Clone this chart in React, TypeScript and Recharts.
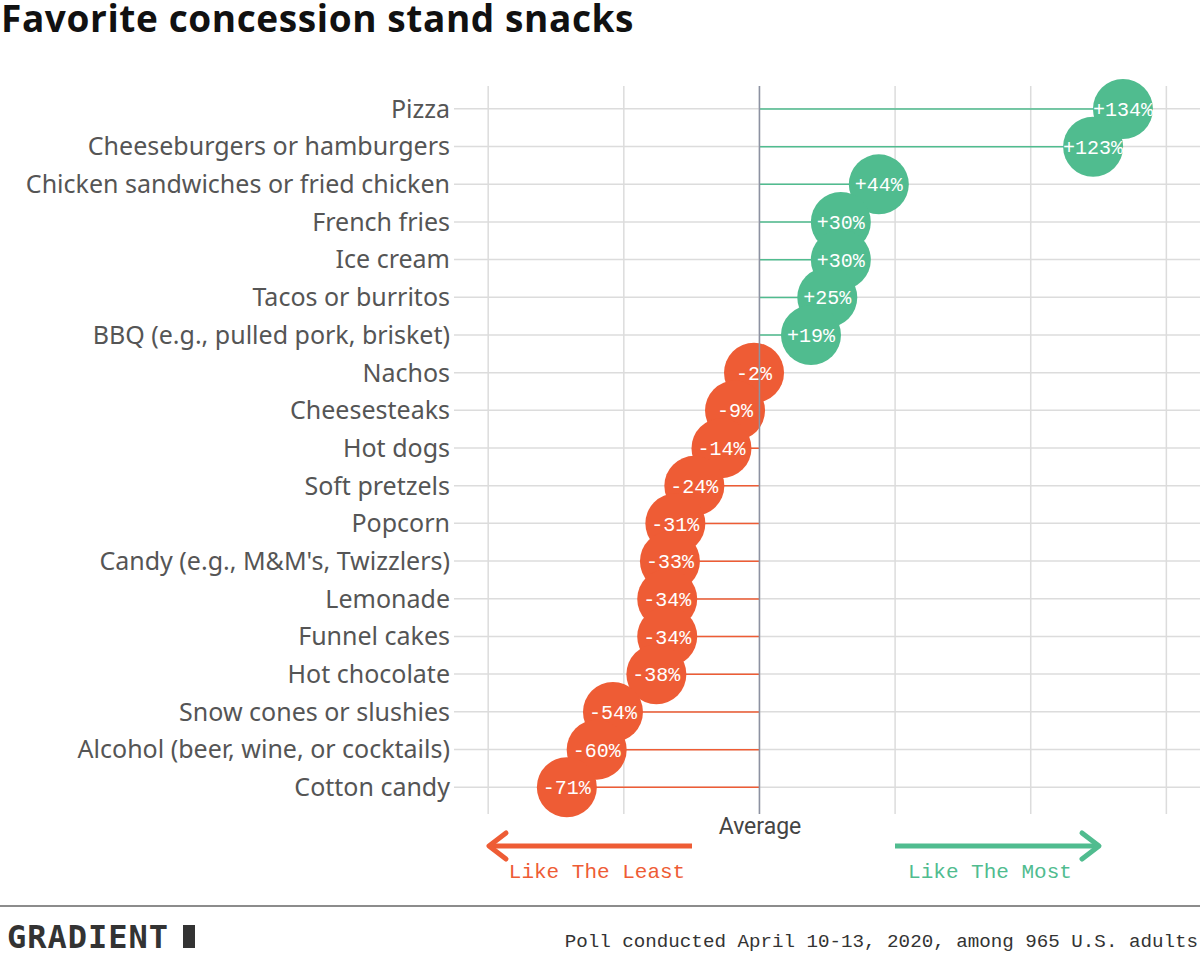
import { ComposedChart, Bar, XAxis, YAxis, CartesianGrid, ReferenceLine } from 'recharts';

// snack categories, top to bottom
const SNACKS = [
  'Pizza',
  'Cheeseburgers or hamburgers',
  'Chicken sandwiches or fried chicken',
  'French fries',
  'Ice cream',
  'Tacos or burritos',
  'BBQ (e.g., pulled pork, brisket)',
  'Nachos',
  'Cheesesteaks',
  'Hot dogs',
  'Soft pretzels',
  'Popcorn',
  "Candy (e.g., M&M's, Twizzlers)",
  'Lemonade',
  'Funnel cakes',
  'Hot chocolate',
  'Snow cones or slushies',
  'Alcohol (beer, wine, or cocktails)',
  'Cotton candy',
];

// % difference vs. average
const SCORES = [134, 123, 44, 30, 30, 25, 19, -2, -9, -14, -24, -31, -33, -34, -34, -38, -54, -60, -71];

const X_TICKS = [-100, -50, 0, 50, 100, 150];
const X_DOMAIN = [-112.6, 162.4];
const Y_PAD = { top: 4, bottom: 8 };

const GREEN = '#50bc8f';
const RED = '#ee5c35';
const GRID = '#dcdcdc';
const LABEL_FONT = '"Noto Sans", sans-serif';
const MONO = '"Liberation Mono", "DejaVu Sans Mono", monospace';

const rows = SNACKS.map((name, i) => ({ name, value: SCORES[i] }));

function fmt(v: number) {
  return `${v > 0 ? '+' : ''}${v}%`;
}

// grid lines at the x ticks and at each row centre (from the plot offset)
function vGrid({ offset }: any) {
  if (!offset) return [];
  const [d0, d1] = X_DOMAIN;
  return X_TICKS.map((t) => offset.left + ((t - d0) / (d1 - d0)) * offset.width);
}

function hGrid({ offset }: any) {
  if (!offset) return [];
  const band = (offset.height - Y_PAD.top - Y_PAD.bottom) / SNACKS.length;
  return SNACKS.map((_, i) => offset.top + Y_PAD.top + band * (i + 0.5));
}

// line from the average to the value, circle with the label at the end
function Lollipop(props: any) {
  const { x, y, width, height, payload } = props;
  const v = payload.value as number;
  const a = x;
  const b = x + width;
  const zero = v >= 0 ? Math.min(a, b) : Math.max(a, b);
  const end = v >= 0 ? Math.max(a, b) : Math.min(a, b);
  const cy = y + height / 2;
  const color = v >= 0 ? GREEN : RED;
  return (
    <g>
      <line x1={zero} x2={end} y1={cy} y2={cy} stroke={color} strokeWidth={1.5} />
      <circle cx={end} cy={cy} r={30} fill={color} />
      <text x={end} y={cy} dy="0.35em" textAnchor="middle" fill="#fff" fontSize={20} style={{ fontFamily: MONO }}>
        {fmt(v)}
      </text>
    </g>
  );
}

export default function App() {
  return (
    <div style={{ position: 'absolute', left: 0, top: 0, width: 1200, height: 960, background: '#fff', overflow: 'hidden' }}>
      <div style={{ position: 'absolute', left: 0, top: 0 }}>
        <ComposedChart
          width={1200}
          height={960}
          data={rows}
          layout="vertical"
          margin={{ top: 86, right: 0, bottom: 146, left: 0 }}
        >
          <CartesianGrid
            stroke={GRID}
            strokeWidth={1.5}
            verticalCoordinatesGenerator={vGrid}
            horizontalCoordinatesGenerator={hGrid}
          />
          <XAxis
            type="number"
            domain={X_DOMAIN}
            ticks={X_TICKS}
            allowDataOverflow
            tick={false}
            axisLine={false}
            tickLine={false}
            height={0}
          />
          <YAxis
            type="category"
            dataKey="name"
            width={454}
            axisLine={false}
            tickLine={false}
            tickSize={0}
            tickMargin={4}
            padding={Y_PAD}
            interval={0}
            tick={{ fontSize: 25, fill: '#555', fontFamily: LABEL_FONT }}
          />
          <ReferenceLine x={0} stroke="#8d92a2" strokeWidth={1.5} />
          <Bar dataKey="value" barSize={2} shape={<Lollipop />} isAnimationActive={false} />
        </ComposedChart>
      </div>

      <svg width={1200} height={960} style={{ position: 'absolute', left: 0, top: 0, pointerEvents: 'none' }}>
        <text x={1} y={32} fontSize={37} fontWeight={700} fill="#111" letterSpacing={0.6} style={{ fontFamily: '"Open Sans", sans-serif' }}>
          Favorite concession stand snacks
        </text>

        <text x={760} y={826} dy="0.35em" textAnchor="middle" fontSize={23} fill="#444" style={{ fontFamily: 'Roboto, sans-serif' }}>
          Average
        </text>

        <line x1={692} x2={490} y1={846} y2={846} stroke={RED} strokeWidth={5} />
        <polyline points="506,833 489,846 506,859" fill="none" stroke={RED} strokeWidth={5} strokeLinecap="round" strokeLinejoin="round" />
        <text x={597} y={871} dy="0.35em" textAnchor="middle" fontSize={21} fill={RED} style={{ fontFamily: MONO }}>
          Like The Least
        </text>

        <line x1={895} x2={1097} y1={846} y2={846} stroke={GREEN} strokeWidth={5} />
        <polyline points="1082,833 1099,846 1082,859" fill="none" stroke={GREEN} strokeWidth={5} strokeLinecap="round" strokeLinejoin="round" />
        <text x={990} y={871} dy="0.35em" textAnchor="middle" fontSize={21} fill={GREEN} style={{ fontFamily: MONO }}>
          Like The Most
        </text>

        <line x1={0} x2={1200} y1={906} y2={906} stroke="#666" strokeWidth={1.5} />
        <text x={7} y={937} dy="0.35em" fontSize={32} fontWeight={700} fill="#333" letterSpacing={1} style={{ fontFamily: '"DejaVu Sans Mono", monospace' }}>
          GRADIENT
        </text>
        <rect x={183} y={925} width={12} height={23} fill="#333" />
        <text x={1198} y={940} dy="0.35em" textAnchor="end" fontSize={19.2} fill="#333" style={{ fontFamily: MONO }}>
          Poll conducted April 10-13, 2020, among 965 U.S. adults
        </text>
      </svg>
    </div>
  );
}
